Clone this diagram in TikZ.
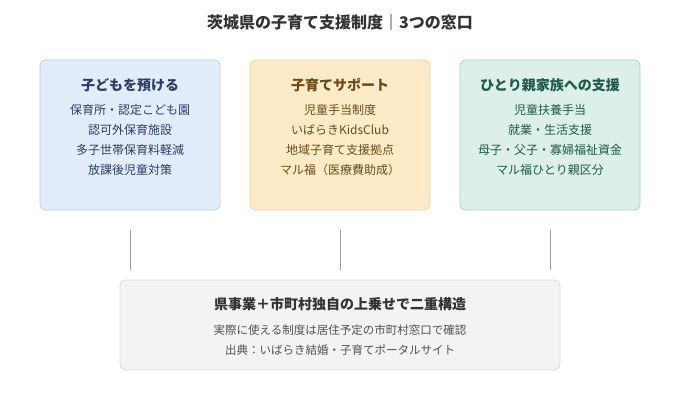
\documentclass[tikz,border=0pt]{standalone}
\usepackage{fontspec}
\setmainfont{Noto Sans CJK JP}
\usetikzlibrary{positioning}
\definecolor{blueF}{HTML}{E3ECFA}\definecolor{blueD}{HTML}{B8CDEB}\definecolor{blueT}{HTML}{2D3E66}
\definecolor{orF}{HTML}{FDEBC8}\definecolor{orD}{HTML}{F0D49A}\definecolor{orT}{HTML}{6B4A1A}
\definecolor{grF}{HTML}{DCEFEA}\definecolor{grD}{HTML}{A9D4C8}\definecolor{grT}{HTML}{1F5A4A}
\definecolor{gyF}{HTML}{F3F3F3}\definecolor{gyD}{HTML}{DDDDDD}\definecolor{gyT}{HTML}{333333}
\tikzset{
  panel/.style={draw, rounded corners=6pt, minimum width=180pt, minimum height=150pt, line width=0.8pt},
  head/.style={font=\fontsize{14}{17}\selectfont\bfseries},
  item/.style={font=\fontsize{12}{14}\selectfont},
  link/.style={draw=gray!80, line width=0.8pt}
}
\begin{document}
\begin{tikzpicture}[x=1pt,y=-1pt]
\useasboundingbox (0,0) rectangle (680,420);
\node[font=\fontsize{16}{19}\selectfont\bfseries, text=gyT] (title) at (340,22) {茨城県の子育て支援制度｜3つの窓口};
% three panels
\node[panel, fill=blueF, draw=blueD] (care) at (130,135) {};
\node[panel, fill=orF, draw=orD] (supp) at (340,135) {};
\node[panel, fill=grF, draw=grD] (single) at (550,135) {};
\node[head, text=blueT] (careh) at (130,85) {子どもを預ける};
\node[item, text=blueT] (care1) at (130,110) {保育所・認定こども園};
\node[item, text=blueT] (care2) at (130,130) {認可外保育施設};
\node[item, text=blueT] (care3) at (130,150) {多子世帯保育料軽減};
\node[item, text=blueT] (care4) at (130,170) {放課後児童対策};
\node[head, text=orT] (supph) at (340,85) {子育てサポート};
\node[item, text=orT] (supp1) at (340,110) {児童手当制度};
\node[item, text=orT] (supp2) at (340,130) {いばらきKidsClub};
\node[item, text=orT] (supp3) at (340,150) {地域子育て支援拠点};
\node[item, text=orT] (supp4) at (340,170) {マル福（医療費助成）};
\node[head, text=grT] (singleh) at (550,85) {ひとり親家族への支援};
\node[item, text=grT] (single1) at (550,110) {児童扶養手当};
\node[item, text=grT] (single2) at (550,130) {就業・生活支援};
\node[item, text=grT] (single3) at (550,150) {母子・父子・寡婦福祉資金};
\node[item, text=grT] (single4) at (550,170) {マル福ひとり親区分};
% bottom panel
\node[panel, fill=gyF, draw=gyD, minimum width=440pt, minimum height=90pt] (base) at (340,325) {};
\node[font=\fontsize{14}{17}\selectfont\bfseries, text=gyT] (baseh) at (340,304) {県事業＋市町村独自の上乗せで二重構造};
\node[font=\fontsize{11.5}{14}\selectfont, text=gyT!85] (base1) at (340,330) {実際に使える制度は居住予定の市町村窓口で確認};
\node[font=\fontsize{11.5}{14}\selectfont, text=gyT!85] (base2) at (340,350) {出典：いばらき結婚・子育てポータルサイト};
% links
\foreach \x/\n in {130/a,340/b,550/c}{
  \coordinate (\n top) at (\x,230);
  \coordinate (\n bot) at (\x,270);
  \draw[link] (\n top) -- (\n bot);
}
\end{tikzpicture}
\end{document}
